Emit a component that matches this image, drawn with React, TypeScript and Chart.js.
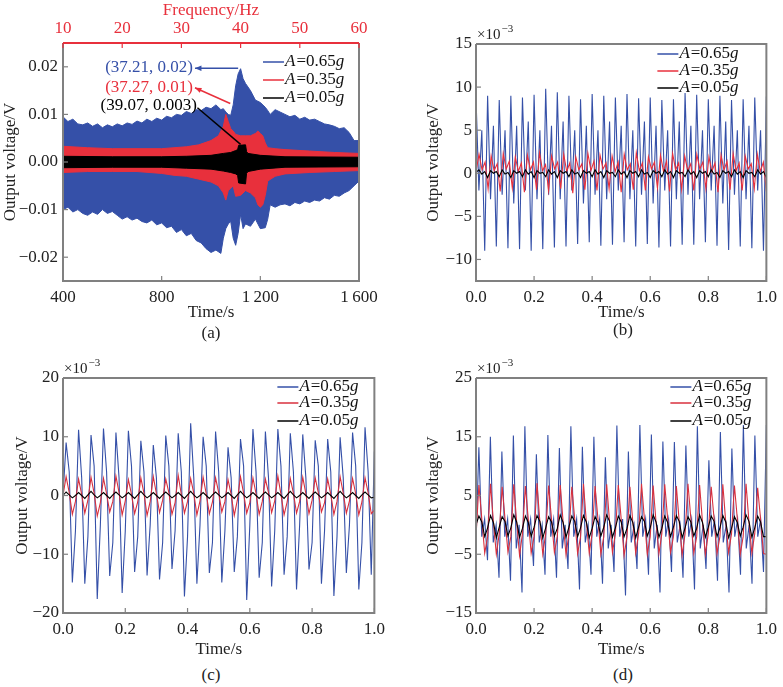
import React, { useEffect, useRef } from "react";
import { Chart, registerables } from "chart.js";
Chart.register(...registerables);

// ---------- Panel (a): envelopes (time s, upper V, lower V) ----------
const aBlueT = [400,420,440,460,480,500,520,540,560,580,600,620,640,660,680,700,720,740,760,780,800,820,840,860,880,900,920,940,960,980,1000,1020,1040,1050,1060,1070,1080,1090,1100,1110,1120,1130,1140,1160,1180,1200,1220,1230,1240,1260,1280,1300,1320,1340,1360,1380,1400,1420,1440,1460,1480,1500,1520,1540,1560,1580,1600];
const aBlueUp = [.0095,.0085,.0090,.0080,.0078,.0082,.0075,.0080,.0072,.0078,.0074,.0080,.0076,.0082,.0079,.0086,.0082,.0090,.0085,.0092,.0088,.0096,.0093,.0100,.0098,.0106,.0102,.0110,.0108,.0115,.0112,.0120,.0110,.0112,.0105,.0100,.0098,.0120,.0160,.0185,.0196,.0175,.0165,.0150,.0130,.0125,.0115,.0108,.0100,.0110,.0105,.0100,.0095,.0098,.0090,.0094,.0088,.0090,.0085,.0080,.0078,.0075,.0070,.0072,.0062,.0045,.0045];
const aBlueLo = [-.0100,-.0095,-.0105,-.0100,-.0108,-.0112,-.0105,-.0110,-.0100,-.0108,-.0104,-.0112,-.0120,-.0115,-.0122,-.0118,-.0125,-.0128,-.0122,-.0132,-.0128,-.0138,-.0135,-.0148,-.0142,-.0155,-.0150,-.0165,-.0170,-.0182,-.0190,-.0185,-.0192,-.0160,-.0140,-.0130,-.0125,-.0160,-.0175,-.0150,-.0110,-.0140,-.0130,-.0135,-.0120,-.0140,-.0138,-.0120,-.0090,-.0095,-.0090,-.0088,-.0092,-.0085,-.0088,-.0082,-.0085,-.0080,-.0082,-.0075,-.0078,-.0070,-.0072,-.0065,-.0060,-.0050,-.0040];
const aRedT = [400,500,600,700,800,850,900,950,1000,1030,1050,1060,1070,1080,1090,1100,1120,1140,1160,1180,1190,1200,1210,1220,1230,1260,1300,1400,1500,1600];
const aRedUp = [.0033,.0030,.0028,.0028,.0028,.0030,.0032,.0036,.0045,.0055,.0075,.0100,.0085,.0070,.0065,.0058,.0055,.0055,.0055,.0060,.0065,.0060,.0055,.0040,.0030,.0028,.0026,.0023,.0020,.0018];
const aRedLo = [-.0022,-.0020,-.0020,-.0020,-.0024,-.0028,-.0030,-.0036,-.0042,-.0050,-.0065,-.0080,-.0060,-.0055,-.0050,-.0072,-.0070,-.0060,-.0065,-.0075,-.0090,-.0095,-.0090,-.0070,-.0040,-.0030,-.0025,-.0022,-.0020,-.0018];
const aBlackT = [400,600,800,900,1000,1050,1080,1100,1108,1112,1140,1144,1150,1200,1300,1600];
const aBlackUp = [.0012,.0011,.0011,.0012,.0014,.0018,.0020,.0024,.0026,.0035,.0036,.0022,.0018,.0014,.0011,.0010];
const aBlackLo = [-.0012,-.0011,-.0011,-.0013,-.0015,-.0019,-.0022,-.0025,-.0028,-.0044,-.0046,-.0024,-.0020,-.0015,-.0011,-.0010];
const aYTicks = [-0.02,-0.01,0,0.01,0.02];
const aXTicks = [400,800,1200,1600];
const aFreqTicks = [10,20,30,40,50,60];

// ---------- Panels (b)-(d): samples over 0..1 s, values in 1e-3 V ----------
const bBlue = [8.8,-2,5,-9, 9.0,-3,5.5,-8.5, 8.5,-2.5,5,-8.7, 9.0,-3.5,5.5,-8.8, 8.8,-2,6,-9.0, 9.1,-3,5,-8.8, 9.8,-2.5,5.5,-8.6, 9.4,-3,6,-8.5, 9.0,-2,5,-8.2, 8.6,-3.5,5.5,-8.0, 9.2,-2.5,5,-8.4, 9.0,-3,6,-8.3, 8.8,-2,5.5,-8.0, 9.2,-3,5,-8.5, 8.7,-2.5,6,-8.2, 8.8,-3.5,5.5,-8.6, 8.5,-2,5,-8.5, 8.6,-3,6,-8.3, 9.3,-2.5,5.5,-8.3, 9.1,-3,5,-8.0, 8.6,-2,5.5,-8.4, 9.0,-3.5,6,-8.9, 8.5,-2.5,5,-8.5, 8.6,-3,5.5,-8.7, 8.8,-2,5,-9.0, 8.9];
const bRed = [0.2,2.2,0.4,1.3,-1.8, 2.0,0.3,1.1,-2.1, 2.3,0.5,1.4,-1.7, 1.9,0.2,1.2,-2.2, 2.1,0.4,1.3,-1.9, 2.4,0.3,1.0,-2.0, 2.0,0.5,1.3,-1.8, 2.2,0.2,1.2,-2.3, 1.9,0.4,1.1,-1.9, 2.3,0.3,1.4,-2.0, 2.1,0.5,1.2,-1.8, 2.0,0.2,1.3,-2.2, 2.2,0.4,1.1,-1.9, 2.4,0.3,1.2,-2.0, 1.9,0.5,1.3,-1.7, 2.1,0.2,1.4,-2.1, 2.3,0.4,1.2,-1.9, 2.0,0.3,1.1,-2.0, 2.2,0.5,1.3,-1.8, 1.9,0.2,1.2,-2.2, 2.1,0.4,1.4,-1.9, 2.3,0.3,1.2,-2.0, 2.0,0.5,1.1,-1.8, 2.2,0.2,1.3,-2.1];
const bBlack = [0.1,0.4,-0.1,0.2,-0.5, 0.3,0.0,0.2,-0.4, 0.4,-0.1,0.1,-0.5, 0.3,0.0,0.2,-0.4, 0.4,-0.1,0.2,-0.5, 0.3,0.0,0.1,-0.4, 0.4,-0.1,0.2,-0.5, 0.3,0.0,0.2,-0.4, 0.4,-0.1,0.1,-0.5, 0.3,0.0,0.2,-0.4, 0.4,-0.1,0.2,-0.5, 0.3,0.0,0.1,-0.4, 0.4,-0.1,0.2,-0.5, 0.3,0.0,0.2,-0.4, 0.4,-0.1,0.1,-0.5, 0.3,0.0,0.2,-0.4, 0.4,-0.1,0.2,-0.5, 0.3,0.0,0.1,-0.4, 0.4,-0.1,0.2,-0.5, 0.3,0.0,0.2,-0.4, 0.4,-0.1,0.1,-0.5, 0.3,0.0,0.2,-0.4, 0.4,-0.1,0.2,-0.5, 0.3,0.0,0.1,-0.4, 0.4,-0.1,0.2,-0.5];
const cBlue = [0,9.0,4,-14.8,-6, 11.2,3,-15.0,-7, 10.3,5,-17.6,-5, 11.4,4,-13.7,-8, 10.7,3,-16.6,-6, 11.0,5,-13.0,-7, 9.3,4,-13.6,-5, 8.6,3,-14.3,-8, 10.2,5,-12.5,-6, 10.6,4,-17.2,-7, 12.3,3,-15.0,-5, 10.0,5,-13.2,-8, 10.9,4,-14.8,-6, 8.2,3,-13.0,-7, 9.6,5,-17.8,-5, 11.3,4,-14.0,-8, 10.9,3,-15.5,-6, 11.3,5,-13.5,-7, 10.6,4,-16.0,-5, 10.4,3,-12.6,-8, 9.4,5,-15.0,-6, 9.6,4,-17.1,-7, 9.9,3,-13.2,-5, 10.7,5,-16.0,-8, 11.6,4,-13.5,7.5];
const cRed = [0,3.2,0.5,-3.2,-1, 2.8,0.2,-3.0,-0.8, 3.1,0.4,-3.5,-1.2, 2.9,0.3,-2.8,-1, 3.3,0.5,-3.3,-0.9, 2.7,0.2,-3.1,-1.1, 3.0,0.4,-3.4,-1, 3.2,0.3,-2.9,-0.8, 2.8,0.5,-3.2,-1.2, 3.4,0.2,-3.0,-1, 2.9,0.4,-3.3,-0.9, 3.1,0.3,-3.1,-1.1, 3.0,0.5,-2.8,-1, 2.7,0.2,-3.4,-0.8, 3.2,0.4,-3.0,-1.2, 3.0,0.3,-3.2,-1, 2.8,0.5,-2.9,-0.9, 3.3,0.2,-3.3,-1.1, 2.9,0.4,-3.0,-1, 3.1,0.3,-3.1,-0.8, 3.0,0.5,-2.8,-1.2, 2.8,0.2,-3.2,-1, 3.2,0.4,-3.0,-0.9, 2.9,0.3,-3.3,-1.1, 3.0,0.5,-3.1,-2.5];
const cBlack = [0,0.6,0.1,-0.4,0, 0.5,0.0,-0.5,0.1, 0.7,0.1,-0.4,0, 0.5,0.0,-0.5,0.1, 0.6,0.1,-0.4,0, 0.5,0.0,-0.5,0.1, 0.7,0.1,-0.4,0, 0.5,0.0,-0.5,0.1, 0.6,0.1,-0.4,0, 0.5,0.0,-0.5,0.1, 0.7,0.1,-0.4,0, 0.5,0.0,-0.5,0.1, 0.6,0.1,-0.4,0, 0.5,0.0,-0.5,0.1, 0.7,0.1,-0.4,0, 0.5,0.0,-0.5,0.1, 0.6,0.1,-0.4,0, 0.5,0.0,-0.5,0.1, 0.7,0.1,-0.4,0, 0.5,0.0,-0.5,0.1, 0.6,0.1,-0.4,0, 0.5,0.0,-0.5,0.1, 0.7,0.1,-0.4,0, 0.5,0.0,-0.5,0.1, 0.6,0.1,-0.4,-0.3];
const dBlue = [-3,13.2,-2,1,-6, 15.0,-3,0,-9, 12.5,-2,1,-9.5, 15.2,-4,0,-11.5, 16.8,-2,1,-7, 12.0,-3,0,-8.5, 15.3,-2,1,-9, 13.1,-4,0,-7.5, 16.8,-2,1,-11, 13.3,-3,0,-8.5, 15.0,-2,1,-10, 11.5,-4,0,-8, 16.9,-2,1,-12, 12.5,-3,0,-7.5, 17.0,-2,1,-8.5, 15.4,-4,0,-11.5, 14.2,-2,1,-8, 14.1,-3,0,-9, 13.5,-2,1,-11, 16.8,-4,0,-7.5, 11.0,-2,1,-9.5, 15.8,-3,0,-11.5, 13.0,-2,1,-8.5, 17.0,-4,0,-10, 15.2,-2,1,-8, 17.0];
const dRed = [-2,6.8,1,-4.8,-2, 7.0,0.5,-5.0,-1.5, 6.5,1,-4.6,-2, 6.9,0.5,-5.2,-1.5, 6.6,1,-4.8,-2, 7.1,0.5,-5.0,-1.5, 6.7,1,-4.7,-2, 6.8,0.5,-5.1,-1.5, 6.5,1,-4.9,-2, 7.0,0.5,-4.8,-1.5, 6.6,1,-5.0,-2, 6.9,0.5,-4.7,-1.5, 6.8,1,-5.2,-2, 6.5,0.5,-4.8,-1.5, 7.0,1,-5.0,-2, 6.7,0.5,-4.9,-1.5, 6.9,1,-4.7,-2, 6.6,0.5,-5.1,-1.5, 7.0,1,-4.8,-2, 6.8,0.5,-5.0,-1.5, 6.5,1,-4.9,-2, 6.9,0.5,-4.7,-1.5, 6.7,1,-5.0,-2, 7.0,0.5,-4.8,-1.5, 6.3,1,-4.9,-5];
const dBlack = [0,1.5,0.5,-2,-0.5, 1.6,0.4,-2.2,-0.4, 1.4,0.6,-1.9,-0.5, 1.7,0.5,-2.1,-0.6, 1.5,0.4,-2.0,-0.4, 1.6,0.6,-2.2,-0.5, 1.4,0.5,-1.9,-0.6, 1.7,0.4,-2.1,-0.4, 1.5,0.6,-2.0,-0.5, 1.6,0.5,-2.2,-0.6, 1.4,0.4,-1.9,-0.4, 1.7,0.6,-2.1,-0.5, 1.5,0.5,-2.0,-0.6, 1.6,0.4,-2.2,-0.4, 1.4,0.6,-1.9,-0.5, 1.7,0.5,-2.1,-0.6, 1.5,0.4,-2.0,-0.4, 1.6,0.6,-2.2,-0.5, 1.4,0.5,-1.9,-0.6, 1.7,0.4,-2.1,-0.4, 1.5,0.6,-2.0,-0.5, 1.6,0.5,-2.2,-0.6, 1.4,0.4,-1.9,-0.4, 1.7,0.6,-2.1,-0.5, 1.5,0.5,-2.0,-2.0];
const tsXTicks = [0,0.2,0.4,0.6,0.8,1.0];
const bYTicks = [-10,-5,0,5,10,15];
const cYTicks = [-20,-10,0,10,20];
const dYTicks = [-15,-5,5,15,25];
const legendLabels = ["0.65", "0.35", "0.05"];

const SERIF = "'Liberation Serif', 'DejaVu Serif', serif";
const BLUE = "#3550a8";
const RED = "#e8303c";
const RED_LINE = "#d8303e";
const GREY = "#808080";

const pts = (arr: number[]) => arr.map((v, i) => ({ x: i / (arr.length - 1), y: v }));
const ptsT = (t: number[], v: number[]) => t.map((x, i) => ({ x, y: v[i] }));
const minus = (s: string) => s.replace("-", "\u2212");

function framePlugin(topRed: boolean) {
  return {
    id: "frame",
    afterDatasetsDraw(chart: any) {
      const { ctx, chartArea: a, scales } = chart;
      ctx.save();
      ctx.lineWidth = 2;
      ctx.strokeStyle = GREY;
      ctx.beginPath();
      ctx.moveTo(a.left, a.top); ctx.lineTo(a.left, a.bottom); ctx.lineTo(a.right, a.bottom); ctx.lineTo(a.right, a.top);
      if (!topRed) ctx.lineTo(a.left, a.top);
      ctx.stroke();
      ctx.lineWidth = 1.2;
      for (const t of scales.x.ticks) {
        const p = scales.x.getPixelForValue(t.value);
        ctx.beginPath(); ctx.moveTo(p, a.bottom); ctx.lineTo(p, a.bottom - 5); ctx.stroke();
      }
      for (const t of scales.y.ticks) {
        const p = scales.y.getPixelForValue(t.value);
        ctx.beginPath(); ctx.moveTo(a.left, p); ctx.lineTo(a.left + 5, p); ctx.stroke();
      }
      if (topRed) {
        ctx.strokeStyle = RED; ctx.lineWidth = 2;
        ctx.beginPath(); ctx.moveTo(a.left, a.top); ctx.lineTo(a.right, a.top); ctx.stroke();
        ctx.lineWidth = 1.2;
        for (const t of scales.x2.ticks) {
          const p = scales.x2.getPixelForValue(t.value);
          ctx.beginPath(); ctx.moveTo(p, a.top); ctx.lineTo(p, a.top + 5); ctx.stroke();
        }
      }
      ctx.restore();
    },
  };
}

function legendPlugin(colors: string[], rows: number[], lineL: number) {
  return {
    id: "leg",
    afterDatasetsDraw(chart: any) {
      const { ctx, chartArea: a } = chart;
      ctx.save();
      ctx.textBaseline = "middle";
      rows.forEach((dy, i) => {
        const y = a.top + dy;
        const x0 = a.right + lineL;
        ctx.strokeStyle = colors[i]; ctx.lineWidth = 1.5;
        ctx.beginPath(); ctx.moveTo(x0, y); ctx.lineTo(x0 + 21, y); ctx.stroke();
        let x = x0 + 22;
        ctx.fillStyle = "#111";
        ctx.font = `italic 17px ${SERIF}`; ctx.fillText("A", x, y); x += ctx.measureText("A").width + 1;
        ctx.font = `17px ${SERIF}`; const s = "=" + legendLabels[i]; ctx.fillText(s, x, y); x += ctx.measureText(s).width;
        ctx.font = `italic 17px ${SERIF}`; ctx.fillText("g", x, y);
      });
      ctx.restore();
    },
  };
}

const expPlugin = {
  id: "exp",
  afterDraw(chart: any) {
    const { ctx, chartArea: a } = chart;
    ctx.save();
    ctx.fillStyle = "#222"; ctx.textBaseline = "alphabetic";
    ctx.font = `15px ${SERIF}`;
    ctx.fillText("\u00d710", a.left + 1, a.top - 5);
    const w = ctx.measureText("\u00d710").width;
    ctx.font = `11px ${SERIF}`;
    ctx.fillText("\u22123", a.left + 2 + w, a.top - 12);
    ctx.restore();
  },
};

const annoPlugin = {
  id: "anno",
  afterDatasetsDraw(chart: any) {
    const { ctx, scales: { x, y } } = chart;
    const P = (t: number, v: number) => [x.getPixelForValue(t), y.getPixelForValue(v)];
    ctx.save();
    ctx.font = `17px ${SERIF}`; ctx.textBaseline = "middle"; ctx.textAlign = "right";
    const arrow = (from: number[], to: number[], col: string, head: boolean) => {
      const [x1, y1] = P(from[0], from[1]); const [x2, y2] = P(to[0], to[1]);
      ctx.strokeStyle = col; ctx.fillStyle = col; ctx.lineWidth = 1.5;
      ctx.beginPath(); ctx.moveTo(x1, y1); ctx.lineTo(x2, y2); ctx.stroke();
      if (head) {
        const ang = Math.atan2(y2 - y1, x2 - x1);
        ctx.beginPath(); ctx.moveTo(x2, y2);
        ctx.lineTo(x2 - 7 * Math.cos(ang - 0.4), y2 - 7 * Math.sin(ang - 0.4));
        ctx.lineTo(x2 - 7 * Math.cos(ang + 0.4), y2 - 7 * Math.sin(ang + 0.4));
        ctx.closePath(); ctx.fill();
      }
    };
    arrow([1110, 0.0197], [935, 0.0197], BLUE, true);
    arrow([1078, 0.0123], [935, 0.0156], RED, true);
    arrow([1120, 0.0037], [945, 0.0114], "#000", false);
    let [px, py] = P(927, 0.0198); ctx.fillStyle = BLUE; ctx.fillText("(37.21, 0.02)", px, py);
    [px, py] = P(927, 0.0157); ctx.fillStyle = RED; ctx.fillText("(37.27, 0.01)", px, py);
    [px, py] = P(943, 0.0119); ctx.fillStyle = "#000"; ctx.fillText("(39.07, 0.003)", px, py);
    ctx.restore();
  },
};

const tickFont = { family: SERIF, size: 17 };
const titleFont = { family: SERIF, size: 17 };
const noGrid = { display: false, drawTicks: false, tickLength: 0 };

function fixTicks(vals: number[]) {
  return (s: any) => { s.ticks = vals.map((v) => ({ value: v })); };
}

function makeA(canvas: HTMLCanvasElement) {
  const ds = (t: number[], up: number[], lo: number[], col: string, order: number) => [
    { data: ptsT(t, up), borderColor: col, backgroundColor: col, borderWidth: 1, pointRadius: 0, fill: "+1", order },
    { data: ptsT(t, lo), borderColor: col, backgroundColor: col, borderWidth: 1, pointRadius: 0, fill: false, order },
  ];
  return new Chart(canvas, {
    type: "line",
    data: { datasets: [...ds(aBlueT, aBlueUp, aBlueLo, BLUE, 3), ...ds(aRedT, aRedUp, aRedLo, RED, 2), ...ds(aBlackT, aBlackUp, aBlackLo, "#000", 1)] as any },
    options: {
      animation: false, responsive: false, maintainAspectRatio: false,
      layout: { padding: { left: 0, right: 32, top: 0, bottom: 0 } },
      plugins: { legend: { display: false }, tooltip: { enabled: false } },
      scales: {
        x: { type: "linear", min: 400, max: 1600, grid: noGrid, border: { display: false },
          afterBuildTicks: fixTicks(aXTicks), afterFit: (s: any) => { s.height = 42; },
          ticks: { font: tickFont, color: "#222", padding: 6, maxRotation: 0, callback: (v: any) => (v >= 1000 ? String(v).replace(/^(\d)/, "$1\u2009") : String(v)) },
          title: { display: true, text: "Time/s", font: titleFont, color: "#222", padding: 0 } },
        x2: { type: "linear", position: "top", min: 10, max: 60, grid: noGrid, border: { display: false },
          afterBuildTicks: fixTicks(aFreqTicks), afterFit: (s: any) => { s.height = 43; },
          ticks: { font: tickFont, color: RED, padding: 4 },
          title: { display: true, text: "Frequency/Hz", font: titleFont, color: RED, padding: 0 } },
        y: { type: "linear", min: -0.025, max: 0.025, grid: noGrid, border: { display: false },
          afterBuildTicks: fixTicks(aYTicks), afterFit: (s: any) => { s.width = 63; },
          ticks: { font: tickFont, color: "#222", padding: 5, callback: (v: any) => minus(Number(v).toFixed(2)) },
          title: { display: true, text: "Output voltage/V", font: titleFont, color: "#222", padding: 0 } },
      },
    } as any,
    plugins: [framePlugin(true), annoPlugin, legendPlugin([BLUE, RED, "#000"], [19, 37, 55], -96)],
  });
}

function makeTS(canvas: HTMLCanvasElement, blue: number[], red: number[], black: number[], yMin: number, yMax: number, yTicks: number[], padTop: number, padLeft: number, yW: number, xH: number, rows: number[], lineL: number, redCol: string) {
  const line = (arr: number[], col: string, order: number) => ({ data: pts(arr), borderColor: col, borderWidth: 1.1, pointRadius: 0, fill: false, order });
  return new Chart(canvas, {
    type: "line",
    data: { datasets: [line(blue, BLUE, 3), line(red, redCol, 2), line(black, "#000", 1)] as any },
    options: {
      animation: false, responsive: false, maintainAspectRatio: false,
      layout: { padding: { left: padLeft, right: 12, top: padTop, bottom: 0 } },
      plugins: { legend: { display: false }, tooltip: { enabled: false } },
      scales: {
        x: { type: "linear", min: 0, max: 1, grid: noGrid, border: { display: false },
          afterBuildTicks: fixTicks(tsXTicks), afterFit: (s: any) => { s.height = xH; },
          ticks: { font: tickFont, color: "#222", padding: 6, maxRotation: 0, callback: (v: any) => Number(v).toFixed(1) },
          title: { display: true, text: "Time/s", font: titleFont, color: "#222", padding: 0 } },
        y: { type: "linear", min: yMin, max: yMax, grid: noGrid, border: { display: false },
          afterBuildTicks: fixTicks(yTicks), afterFit: (s: any) => { s.width = yW; },
          ticks: { font: tickFont, color: "#222", padding: 4, callback: (v: any) => minus(String(v)) },
          title: { display: true, text: "Output voltage/V", font: titleFont, color: "#222", padding: 0 } },
      },
    } as any,
    plugins: [framePlugin(false), expPlugin, legendPlugin([BLUE, redCol, "#000"], rows, lineL)],
  });
}

function Panel({ left, top, w, h, make }: any) {
  const ref = useRef<HTMLCanvasElement>(null);
  useEffect(() => {
    const c = make(ref.current!);
    return () => c.destroy();
  }, []);
  return <canvas ref={ref} width={w} height={h} style={{ position: "absolute", left, top, width: w, height: h }} />;
}

const Cap = ({ x, y, t }: any) => (
  <div style={{ position: "absolute", left: x - 20, top: y - 10, width: 40, textAlign: "center", font: `17px ${SERIF}`, color: "#222", lineHeight: "20px" }}>{t}</div>
);

export default function App() {
  return (
    <div style={{ position: "absolute", left: 0, top: 0, width: 783, height: 687, background: "#fff", overflow: "hidden" }}>
      <Panel left={0} top={0} w={391} h={323} make={makeA} />
      <Panel left={391} top={0} w={392} h={323} make={(c: any) => makeTS(c, bBlue, bRed, bBlack, -12.5, 15, bYTicks, 44, 32, 53, 42, [10, 27, 44], -109, RED)} />
      <Panel left={0} top={340} w={391} h={320} make={(c: any) => makeTS(c, cBlue, cRed, cBlack, -20, 20, cYTicks, 38, 12, 51, 47, [9, 25, 43], -97, RED_LINE)} />
      <Panel left={391} top={340} w={392} h={320} make={(c: any) => makeTS(c, dBlue, dRed, dBlack, -15, 25, dYTicks, 38, 32, 53, 47, [9, 25, 43], -96, RED_LINE)} />
      <Cap x={211} y={333} t="(a)" />
      <Cap x={623} y={330} t="(b)" />
      <Cap x={211} y={675} t="(c)" />
      <Cap x={623} y={675} t="(d)" />
    </div>
  );
}
